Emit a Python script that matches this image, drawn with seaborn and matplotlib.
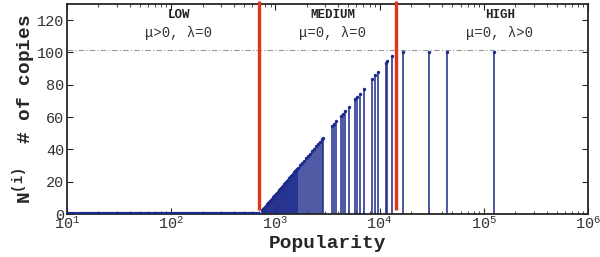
import matplotlib
matplotlib.use('Agg')
import matplotlib.pyplot as plt
import seaborn as sns
import pandas as pd

# LOW region: popularity with zero copies (flat baseline)
low_pop = [10, 20, 50, 100, 200, 400, 697]
low_n = [0, 0, 0, 0, 0, 0, 0]

# MEDIUM region: stems (popularity, number of copies)
med_pop = [743, 760, 777, 795, 812, 830, 849, 868, 888, 908, 928, 949, 970, 991,
           1013, 1036, 1059, 1083, 1107, 1132, 1157, 1183, 1209, 1236, 1264, 1292,
           1321, 1351, 1381, 1412, 1443, 1475, 1508, 1542, 1576, 1612, 1648, 1722,
           1800, 1881, 1966, 2056, 2149, 2245, 2347, 2453, 2564, 2680, 2801, 2882,
           3493, 3651, 3815, 4262, 4455, 4687, 5051, 5847, 6069, 6442, 7039, 8400,
           9094, 9652, 11520, 11855, 13152]
med_n = [2.2, 2.9, 3.7, 4.4, 5.1, 5.9, 6.6, 7.3, 8.1, 8.8, 9.5, 10.3, 11.0, 11.7,
         12.5, 13.2, 13.9, 14.7, 15.4, 16.1, 16.9, 17.6, 18.3, 19.1, 19.8, 20.5,
         21.3, 22.0, 22.7, 23.5, 24.2, 24.9, 25.7, 26.4, 27.1, 27.9, 28.6, 30.1,
         31.5, 33.0, 34.5, 35.9, 37.4, 38.9, 40.3, 41.8, 43.2, 44.7, 46.2, 47.0,
         54.2, 55.9, 57.5, 60.4, 62.1, 63.5, 66.2, 71.0, 72.4, 74.5, 77.6, 83.6,
         85.9, 88.1, 93.7, 94.5, 98.1]

# HIGH region
high_pop = [16900, 30000, 44000, 126000]
high_n = [100.3, 100.3, 100.3, 100.3]

thresholds = [697, 14300]
cap = 101.4

regions = ['LOW', 'MEDIUM', 'HIGH']
region_sub = ['\u03bc>0, \u03bb=0', '\u03bc=0, \u03bb=0', '\u03bc=0, \u03bb>0']
region_x = [118, 3570, 143000]

sns.set_style('ticks')
plt.rcParams['font.family'] = ['Liberation Mono', 'DejaVu Sans']
plt.rcParams['mathtext.fontset'] = 'custom'
plt.rcParams['mathtext.rm'] = 'Liberation Mono'
plt.rcParams['mathtext.bf'] = 'Liberation Mono:bold'
plt.rcParams['xtick.direction'] = 'in'
plt.rcParams['ytick.direction'] = 'in'

navy = '#1c2a8a'

fig = plt.figure(figsize=(6, 2.57), dpi=100)
ax = fig.add_axes([0.1117, 0.1673, 0.8683, 0.8171])

df = pd.DataFrame({'pop': med_pop + high_pop, 'n': med_n + high_n})
ax.vlines(df['pop'], 0, df['n'], color=navy, lw=1.1)
sns.scatterplot(data=df, x='pop', y='n', ax=ax, color=navy, s=6, linewidth=0, zorder=3)
sns.lineplot(x=low_pop, y=low_n, ax=ax, color=navy, lw=3, zorder=3)

ax.axhline(cap, color='#9a9a9a', lw=0.8, ls=(0, (5, 2, 1, 2)), zorder=1)
ax.vlines(thresholds, 2.4, 132, color='#e0351a', lw=2.4, clip_on=False, zorder=4)

for name, sub, x in zip(regions, region_sub, region_x):
    ax.text(x, 123, name, ha='center', va='center', fontsize=9, fontweight='bold', color='#222222')
    ax.text(x, 112, sub, ha='center', va='center', fontsize=10, color='#333333')

ax.set_xscale('log')
ax.set_xlim(10, 1e6)
ax.set_ylim(0, 130)
ax.set_yticks(range(0, 121, 20))
ax.tick_params(which='both', top=True, right=True, labelsize=11, labelcolor='#333333')
ax.tick_params(which='major', length=4)
ax.tick_params(which='minor', length=2)
ax.tick_params(axis='x', pad=1)
ax.tick_params(axis='y', pad=2)
for s in ax.spines.values():
    s.set_linewidth(1.3)

ax.set_xlabel('Popularity', fontsize=14, fontweight='bold', labelpad=2)
ax.set_ylabel(r'$\mathbf{N^{(i)}}$  # of copies', fontsize=14, fontweight='bold', labelpad=-1)

fig.savefig('out.png', dpi=100)
